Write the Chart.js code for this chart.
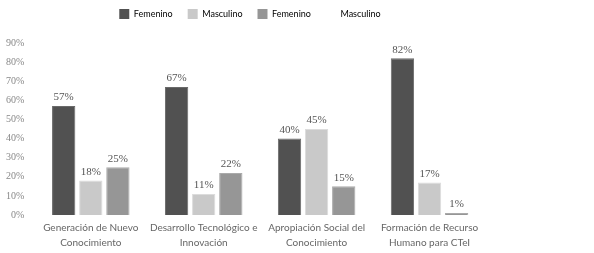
<!DOCTYPE html>
<html>
<head>
<meta charset="utf-8">
<script src="https://cdn.jsdelivr.net/npm/chart.js@4.4.0/dist/chart.umd.min.js"></script>
<style>
  html, body { margin: 0; padding: 0; background: #fff; }
  #wrap { width: 594px; height: 253px; }
</style>
</head>
<body>
<div id="wrap"><canvas id="chart"></canvas></div>
<script>
// Categories and values (percent)
const categories = [
    ['Generación de Nuevo', 'Conocimiento'],
    ['Desarrollo Tecnológico e', 'Innovación'],
    ['Apropiación Social del', 'Conocimiento'],
    ['Formación de Recurso', 'Humano para CTeI']
];
const serieA = [57, 67, 40, 82];
const serieB = [18, 11, 45, 17];
const serieC = [25, 22, 15, 1];
const legendLabels = ['Femenino', 'Masculino', 'Femenino', 'Masculino'];
const yTicks = [0, 10, 20, 30, 40, 50, 60, 70, 80, 90];

const colors = ['#515151', '#c9c9c9', '#969696', '#ffffff'];
const borders = ['#6a6a6a', '#dcdcdc', '#aaaaaa', '#ffffff'];

// Draw value labels above bars
const valueLabels = {
    id: 'valueLabels',
    afterDatasetsDraw(chart) {
        const ctx = chart.ctx;
        ctx.save();
        ctx.font = '11px "Liberation Serif", serif';
        ctx.fillStyle = '#555';
        ctx.textAlign = 'center';
        ctx.textBaseline = 'bottom';
        chart.data.datasets.forEach((ds, i) => {
            chart.getDatasetMeta(i).data.forEach((bar, j) => {
                ctx.fillText(ds.data[j] + '%', bar.x, bar.y - 3);
            });
        });
        ctx.restore();
    }
};

// Extra space under the legend, and nudge it to the right
const legendGap = {
    id: 'legendGap',
    beforeInit(chart) {
        const fit = chart.legend.fit;
        chart.legend.fit = function () {
            fit.bind(chart.legend)();
            this.height += 14;
        };
    },
    beforeDraw(chart) {
        chart.legend.left += 9;
        chart.legend.right += 9;
    }
};

const ctx = document.getElementById('chart').getContext('2d');
const chart = new Chart(ctx, {
    type: 'bar',
    data: {
        labels: categories,
        datasets: [serieA, serieB, serieC].map((d, i) => ({
            label: legendLabels[i],
            data: d,
            backgroundColor: colors[i],
            borderColor: borders[i],
            borderWidth: 1,
            barPercentage: 0.86,
            categoryPercentage: 0.72
        }))
    },
    options: {
        responsive: true,
        maintainAspectRatio: false,
        animation: false,
        layout: { padding: { left: -4, right: 108, top: -6, bottom: -2 } },
        plugins: {
            legend: {
                position: 'top',
                labels: {
                    boxWidth: 10,
                    boxHeight: 10,
                    padding: 15,
                    color: '#666',
                    font: { family: 'Lato, sans-serif', size: 9 },
                    generateLabels: () => legendLabels.map((t, i) => ({
                        text: t,
                        fillStyle: colors[i],
                        strokeStyle: colors[i],
                        lineWidth: 0,
                        hidden: false,
                        datasetIndex: i
                    }))
                }
            },
            tooltip: { enabled: false }
        },
        scales: {
            x: {
                grid: { display: false, drawTicks: false },
                border: { display: false },
                ticks: {
                    color: '#666',
                    padding: 5,
                    maxRotation: 0,
                    autoSkip: false,
                    font: { family: 'Lato, sans-serif', size: 10, lineHeight: 1.5 }
                }
            },
            y: {
                min: 0,
                max: 90,
                afterBuildTicks: axis => { axis.ticks = yTicks.map(v => ({ value: v })); },
                grid: { display: false, drawTicks: false },
                border: { display: false },
                ticks: {
                    color: '#888',
                    padding: 10,
                    font: { family: '"Liberation Serif", serif', size: 10 },
                    callback: v => v + '%'
                }
            }
        }
    },
    plugins: [valueLabels, legendGap]
});
</script>
</body>
</html>
